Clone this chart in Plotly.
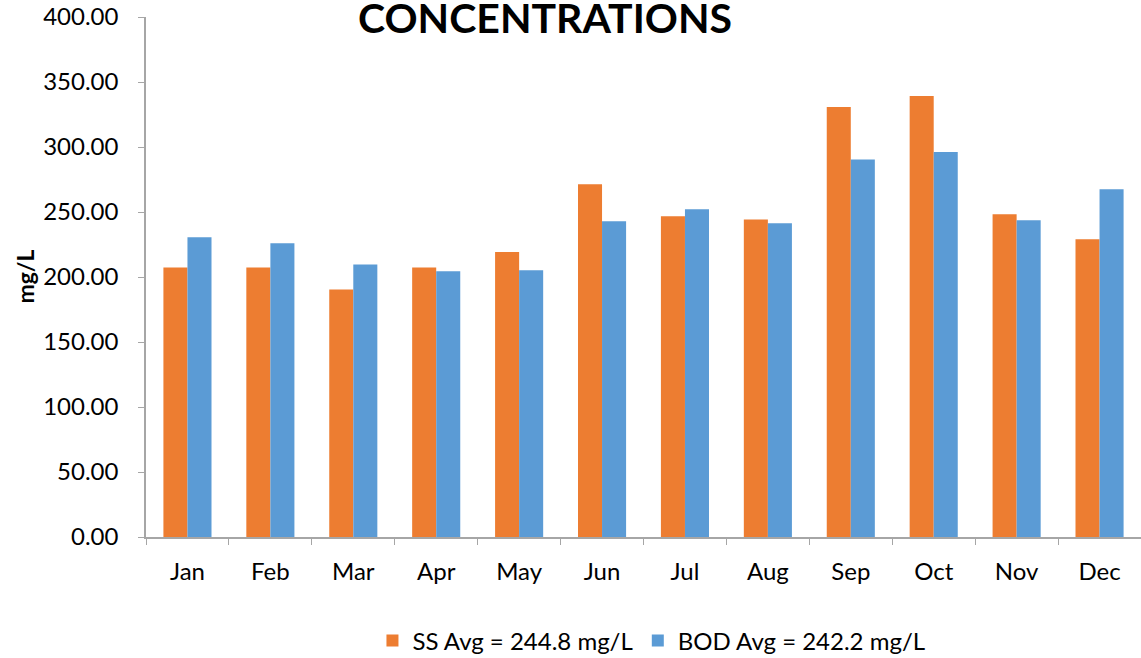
import plotly.graph_objects as go

months = ["Jan", "Feb", "Mar", "Apr", "May", "Jun", "Jul", "Aug", "Sep", "Oct", "Nov", "Dec"]
ss_values = [207.4, 207.4, 190.4, 207.4, 219.2, 271.4, 246.7, 244.2, 330.8, 339.2, 248.3, 229.0]
bod_values = [230.5, 225.9, 209.7, 204.5, 205.1, 242.9, 252.1, 241.3, 290.4, 296.1, 243.6, 267.5]
series_names = ["SS Avg = 244.8 mg/L", "BOD Avg = 242.2 mg/L"]
y_ticks = [0, 50, 100, 150, 200, 250, 300, 350, 400]
y_tick_labels = ["0.00", "50.00", "100.00", "150.00", "200.00", "250.00", "300.00", "350.00", "400.00"]

ORANGE = "#ED7D31"
BLUE = "#5B9BD5"
AXIS = "#A6A6A6"
FONT = "Lato"

fig = go.Figure()
fig.add_trace(go.Bar(x=months, y=ss_values, name=series_names[0], marker_color=ORANGE, marker_line_width=0))
fig.add_trace(go.Bar(x=months, y=bod_values, name=series_names[1], marker_color=BLUE, marker_line_width=0))

boundaries = [i - 0.5 for i in range(len(months) + 1)]

fig.update_layout(
    width=1141, height=658,
    margin=dict(l=146, r=0, t=17, b=121, pad=0, autoexpand=False),
    paper_bgcolor="white", plot_bgcolor="white",
    barmode="group", bargap=0.42, bargroupgap=0,
    font=dict(family=FONT, size=24, color="#000000"),
    showlegend=True,
    legend=dict(orientation="h", x=0.508, xanchor="center", y=-0.2, yanchor="middle",
                font=dict(family=FONT, size=24, color="#000000"),
                traceorder="normal"),
    xaxis=dict(
        type="category", categoryorder="array", categoryarray=months,
        range=[-0.5, len(months) - 0.5],
        showline=True, linecolor=AXIS, linewidth=1.5,
        ticks="outside", tickson="boundaries", ticklen=6, tickcolor=AXIS, tickwidth=1,
        ticklabelstandoff=12,
        showgrid=False, zeroline=False,
        tickfont=dict(family=FONT, size=24, color="#000000"),
    ),
    xaxis2=dict(
        overlaying="x", anchor="y", range=[-0.5, len(months) - 0.5],
        tickmode="array", tickvals=boundaries, ticks="inside", ticklen=6,
        tickcolor=AXIS, tickwidth=1, showticklabels=False, showgrid=False,
        zeroline=False, showline=False,
    ),
    yaxis=dict(
        range=[0, 400], tickmode="array", tickvals=y_ticks, ticktext=y_tick_labels,
        showline=True, linecolor=AXIS, linewidth=1.5,
        ticks="outside", ticklen=6, tickcolor=AXIS, tickwidth=1,
        ticklabelstandoff=15,
        showgrid=False, zeroline=False,
        tickfont=dict(family=FONT, size=24, color="#000000"),
    ),
    yaxis2=dict(
        overlaying="y", anchor="x", range=[0, 400],
        tickmode="array", tickvals=y_ticks, ticks="inside", ticklen=6,
        tickcolor=AXIS, tickwidth=1, showticklabels=False, showgrid=False,
        zeroline=False, showline=False,
    ),
    annotations=[
        dict(text="<b>CONCENTRATIONS</b>", xref="paper", yref="paper", x=0.401, y=0.999,
             xanchor="center", yanchor="middle", showarrow=False,
             font=dict(family=FONT, size=41, color="#000000")),
        dict(text="<b>mg/L</b>", xref="paper", yref="paper", x=-0.122, y=0.5,
             xanchor="center", yanchor="middle", textangle=-90, showarrow=False,
             font=dict(family=FONT, size=23, color="#000000")),
    ],
)

fig.write_html("out.html", config={"displayModeBar": False},
               post_script="document.body.style.margin='0';document.body.style.padding='0';")
